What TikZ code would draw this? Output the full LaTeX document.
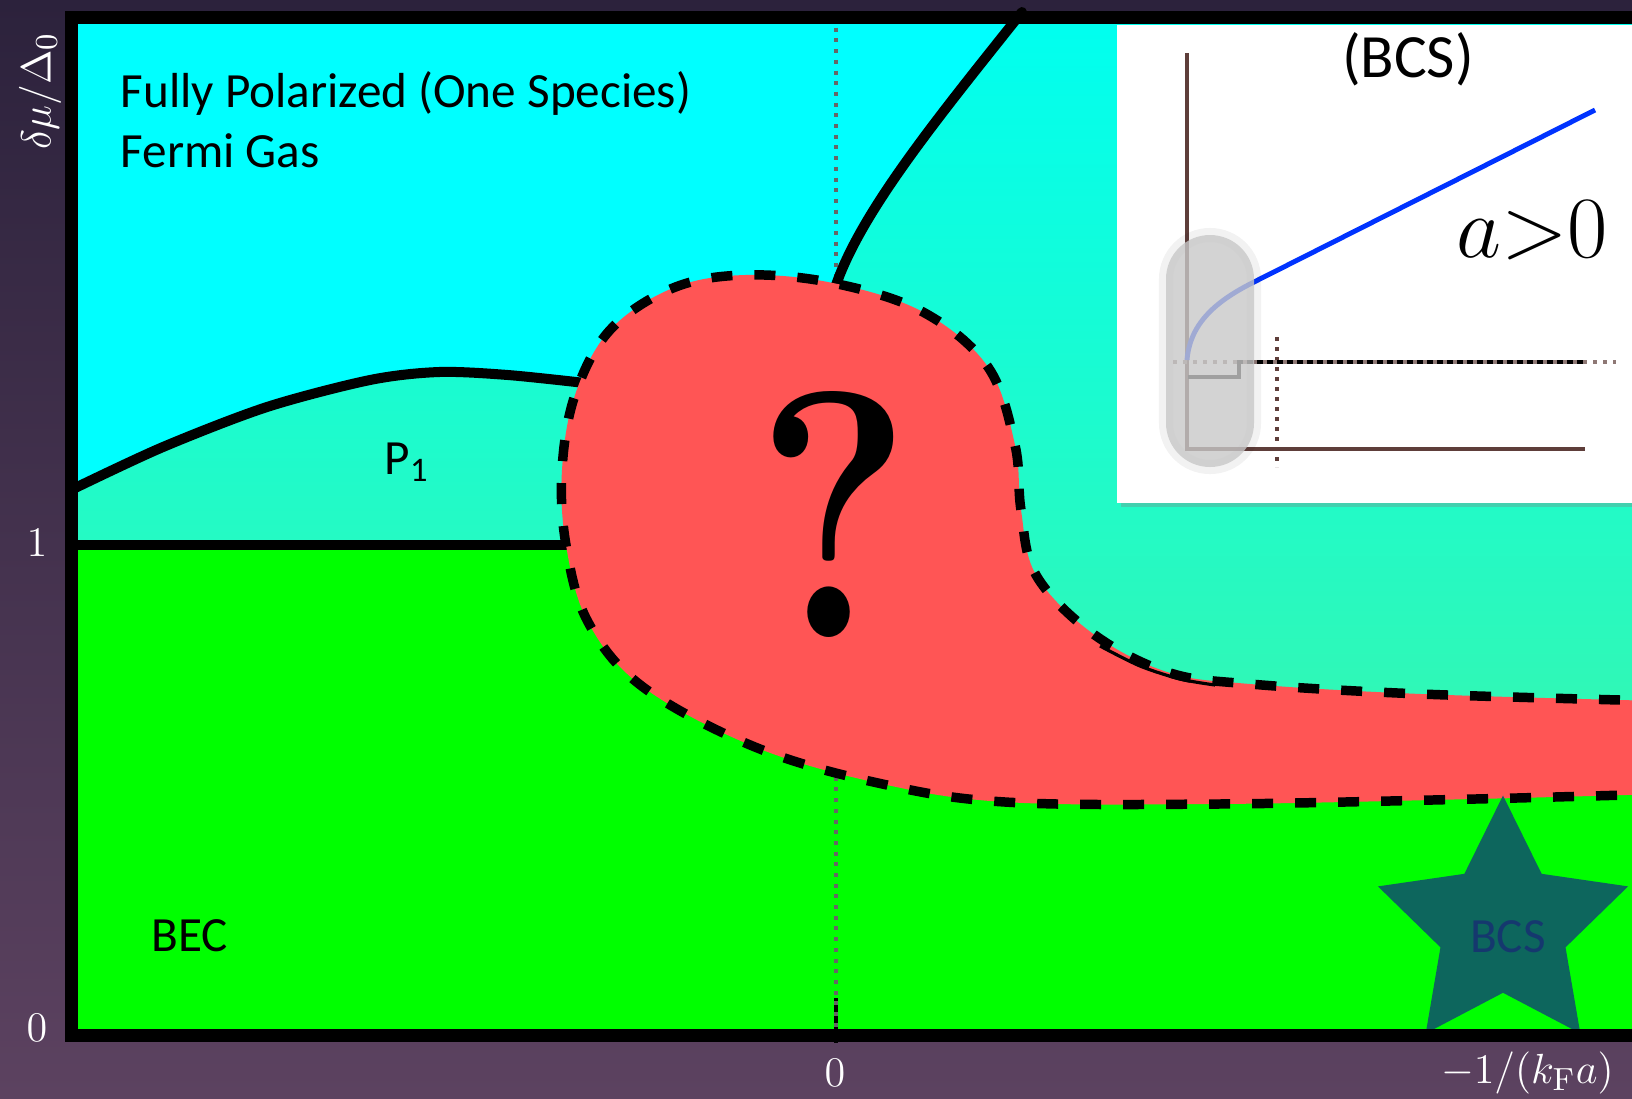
\documentclass[tikz,border=0pt]{standalone}
\usepackage{fontspec}
\usepackage{tikz}
\usetikzlibrary{shapes.geometric,shadows}
\newfontfamily\gill{Carlito}
\definecolor{bgtop}{RGB}{44,34,60}
\definecolor{bgbot}{RGB}{92,66,96}
\definecolor{fermicyan}{RGB}{0,255,255}
\definecolor{ptop}{RGB}{0,255,240}
\definecolor{pbot}{RGB}{48,248,182}
\definecolor{becgreen}{RGB}{0,255,0}
\definecolor{blobred}{RGB}{255,85,85}
\definecolor{starteal}{RGB}{14,94,98}
\definecolor{bcsblue}{RGB}{22,52,112}
\definecolor{insetbrown}{RGB}{94,62,58}
\definecolor{gapblue}{RGB}{0,51,255}
\definecolor{capgray}{RGB}{200,200,200}

\begin{document}
\begin{tikzpicture}[x=0.1mm,y=-0.1mm,
  bound/.style={line width=2.85pt,line cap=round,line join=round},
  phase/.style={fill=blobred,draw=black,line width=2.7pt,dash pattern=on 2.1mm off 2.2mm},
  frame/.style={line width=3.7pt},
  guide/.style={draw=black!60,line width=1.1pt,dash pattern=on 0.4mm off 0.67mm},
  lbl/.style={font=\gill\fontsize{14}{16}\selectfont,inner sep=0pt},
  tick/.style={text=white,font=\fontsize{13}{15}\selectfont},
  axisline/.style={draw=insetbrown,line width=1.15pt},
  dots/.style={line width=0.9pt,dash pattern=on 0.4mm off 0.6mm},
]
  \useasboundingbox (0,0) rectangle (1632,1098);
  \clip (0,0) rectangle (1632,1098);
  \shade[top color=bgtop,bottom color=bgbot] (0,0) rectangle (1632,1098);

  % phase regions
  \fill[becgreen] (71,17) rectangle (1700,1035);
  \shade[top color=ptop,bottom color=pbot] (71,17) -- (1700,17) -- (1700,703) -- (1421,700)
    -- (1250,692) -- (1160,680) -- (1080,640) -- (1030,590) -- (900,600) -- (600,548) -- (71,548) -- cycle;
  \fill[fermicyan] (71,17) -- (1022,12) .. controls (940,115) and (862,210) .. (836,285)
    -- (760,420) -- plot[smooth] coordinates {(585,383) (508,375) (439,372) (370,380) (267,407) (163,447) (71,490)}
    -- cycle;

  \draw[line width=0.9pt] (836,998) -- (836,1043);
  \draw[guide] (836,17) -- (836,1035);

  \draw[bound] plot[smooth] coordinates {(73,489) (163,447) (267,407) (370,380) (439,372) (508,375) (585,383)};
  \draw[bound] (73,545) -- (570,545);
  \draw[bound] (836,285) .. controls (862,210) and (940,115) .. (1022,12);

  \path[phase] plot[smooth,tension=0.6] coordinates {(1660,794) (1475,799) (1217,804) (1005,802) (878,783)
    (755,747) (643,687) (588,622) (566,545) (562,470) (575,395) (610,330) (673,288) (745,275) (833,283)
    (923,312) (988,367) (1015,445) (1021,510) (1036,575) (1092,633) (1167,672) (1250,684) (1421,694)
    (1660,701)} -- cycle;
  \draw[line width=0.9pt] plot[smooth] coordinates {(1100,646) (1140,666) (1180,679) (1215,685)};

  \node[star,star points=5,star point ratio=2,minimum size=26.3mm,inner sep=0pt,fill=starteal,
    fill opacity=0.95] (bcs) at (1503,927) {};
  \node[lbl,text=bcsblue,text opacity=0.9] (bcslbl) at (1508,937) {BCS};

  \draw[frame] (1700,17) -- (71.5,17) -- (71.5,1035) -- (1700,1035);

  \node[lbl,anchor=base west] (fully) at (120,107) {Fully Polarized (One Species)};
  \node[lbl,anchor=base west] (fermi) at (120,167) {Fermi Gas};
  \node[lbl,anchor=base west] (pone) at (384,474) {P\textsubscript{1}};
  \node[lbl,anchor=base west] (bec) at (151,951) {BEC};
  \node[font=\bfseries\fontsize{100}{104}\selectfont,xscale=0.84] (qmark) at (834,514) {?};

  \node[tick,rotate=90] (ylab) at (40,91) {$\delta\mu/\Delta_0$};
  \node[tick] (yone) at (37,543) {$1$};
  \node[tick] (yzero) at (37,1028) {$0$};
  \node[tick] (xzero) at (835,1073) {$0$};
  \node[tick,anchor=east] (xlab) at (1626,1073) {$-1/(k_{\mathrm F}a)$};

  % inset
  \path[fill=white,drop shadow={shadow xshift=1.2pt,shadow yshift=-1.2pt,opacity=0.35}] (1117,25) rectangle (1660,503);
  \draw[axisline] (1187,53) -- (1187,449) -- (1585,449);
  \draw[insetbrown,dots] (1277,337) -- (1277,467);
  \draw[line width=1.4pt] (1188,377) -- (1239,377) -- (1239,362) -- (1585,362);
  \draw[insetbrown!70,dots] (1173,362) -- (1616,362);
  \draw[gapblue,line width=1.4pt] (1187,360) .. controls (1190,322) and (1218,300) .. (1254,282) -- (1595,110);
  \node[font=\gill\fontsize{17.5}{20}\selectfont,anchor=base] (bcstitle) at (1408,77) {(BCS)};
  \node[font=\fontsize{28}{30}\selectfont,anchor=base] (agt) at (1532,257) {$a{>}0$};
  \draw[black,opacity=0.05,line width=4pt,rounded corners=4.4mm] (1166,235) rectangle (1254,467);
  \fill[capgray,opacity=0.8,rounded corners=4.4mm] (1166,235) rectangle (1254,467);
\end{tikzpicture}
\end{document}
